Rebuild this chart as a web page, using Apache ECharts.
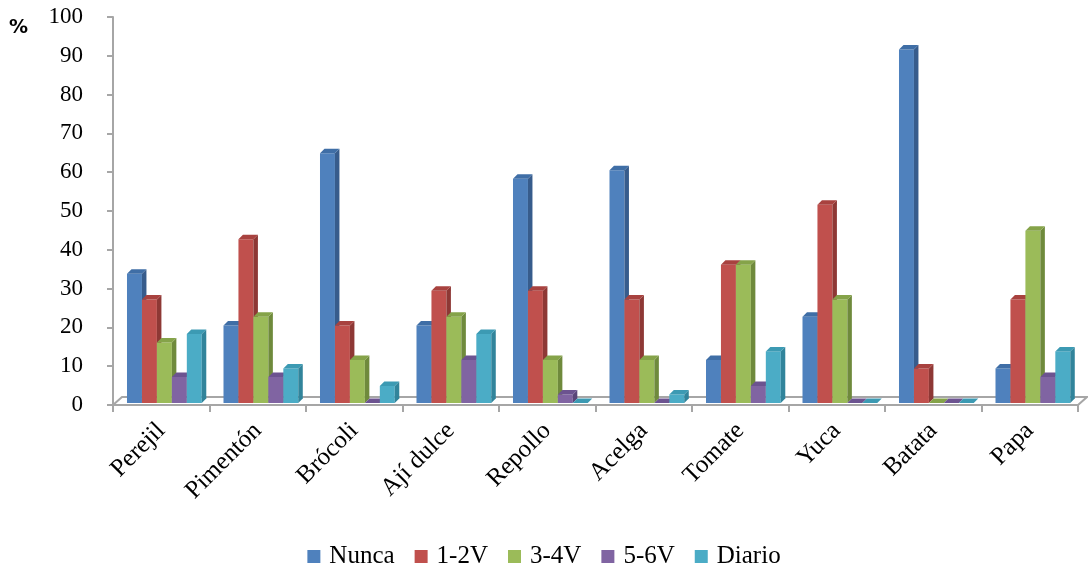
<!DOCTYPE html>
<html><head><meta charset="utf-8">
<script src="https://cdn.jsdelivr.net/npm/echarts@6/dist/echarts.min.js"></script>
<style>html,body{margin:0;padding:0;background:#fff}#c{width:1088px;height:574px}</style>
</head><body><div id="c"></div>
<script>
var categories = ['Perejil','Pimentón','Brócoli','Ají dulce','Repollo','Acelga','Tomate','Yuca','Batata','Papa'];
var seriesNames = ['Nunca','1-2V','3-4V','5-6V','Diario'];
var nunca  = [33.3, 20.0, 64.4, 20.0, 57.8, 60.0, 11.1, 22.2, 91.1, 8.9];
var v12    = [26.7, 42.2, 20.0, 28.9, 28.9, 26.7, 35.6, 51.1, 8.9, 26.7];
var v34    = [15.6, 22.2, 11.1, 22.2, 11.1, 11.1, 35.6, 26.7, 0, 44.4];
var v56    = [6.7, 6.7, 0, 11.1, 2.2, 0, 4.4, 0, 0, 6.7];
var diario = [17.8, 8.9, 4.4, 17.8, 0, 2.2, 13.3, 0, 0, 13.3];
var yTicks = [0,10,20,30,40,50,60,70,80,90,100];

var values = [nunca, v12, v34, v56, diario];
var front = ['#4F81BD','#C0504D','#9BBB59','#8064A2','#4BACC6'];
var side  = ['#375C8C','#8E3835','#6F8A3C','#5A4679','#31849B'];
var topc  = ['#3F6EA6','#A8423F','#85A349','#6C5390','#3C9AB3'];
var DX = 4.5, DY = 4.5;

function makeRender(idx){
  return function(params, api){
    var c = api.value(0), v = api.value(1);
    var base = api.coord([c, 0]);
    var tp = api.coord([c, v]);
    var band = api.size([1, 0])[0];
    var w = band * 0.155;
    var left = base[0] - band/2 + band*0.145 + w*idx;
    var by = base[1] - 2, ty = tp[1] - 2;
    if (ty > by) ty = by;
    var children = [];
    if (by - ty > 0.1) {
      children.push({type:'rect', shape:{x:left, y:ty, width:w, height:by-ty}, style:{fill:front[idx]}});
      children.push({type:'polygon', shape:{points:[[left+w,ty],[left+w+DX,ty-DY],[left+w+DX,by-DY],[left+w,by]]}, style:{fill:side[idx]}});
    }
    children.push({type:'polygon', shape:{points:[[left,ty],[left+DX,ty-DY],[left+w+DX,ty-DY],[left+w,ty]]}, style:{fill:topc[idx]}});
    return {type:'group', children:children};
  };
}

var series = [];
series.push({
  type:'custom', name:'floor', silent:true, z:1,
  data:[[0,0]],
  renderItem:function(params, api){
    var band = api.size([1,0])[0];
    var a = api.coord([0,0]), b = api.coord([categories.length-1,0]);
    var L = a[0]-band/2, R = b[0]+band/2, y = a[1];
    var ox = 9, oy = 8;
    return {type:'polyline', shape:{points:[[L,y],[L+ox,y-oy],[R+ox,y-oy],[R,y],[L,y]]},
      style:{fill:null, stroke:'#A6A6A6', lineWidth:2}};
  }
});
for (var s=0; s<seriesNames.length; s++){
  var d = values[s].map(function(v,i){return [i,v];});
  series.push({
    type:'custom', name:seriesNames[s], z:2,
    itemStyle:{color:front[s]},
    encode:{x:0, y:1},
    data:d,
    renderItem:makeRender(s)
  });
}

var chart = echarts.init(document.getElementById('c'), null, {renderer:'canvas'});
chart.setOption({
  animation:false,
  backgroundColor:'#fff',
  title:{text:'%', left:4, top:14, textStyle:{fontFamily:'DejaVu Sans', fontWeight:'bold', fontSize:19, color:'#000'}},
  legend:{
    data:seriesNames, bottom:0, left:'center', icon:'rect', itemWidth:13, itemHeight:13, itemGap:20,
    textStyle:{fontFamily:'Liberation Serif', fontSize:25, color:'#000', padding:[0,0,0,4]}
  },
  grid:{left:113, right:10, top:17, bottom:169},
  xAxis:{
    type:'category', data:categories,
    axisLine:{show:false},
    axisTick:{show:true, length:7, lineStyle:{color:'#A6A6A6', width:2}},
    axisLabel:{rotate:45, margin:22, fontFamily:'Liberation Serif', fontSize:25, color:'#000', interval:0}
  },
  yAxis:{
    type:'value', min:0, max:100, interval:10,
    axisLine:{show:true, lineStyle:{color:'#A6A6A6', width:2}},
    axisTick:{show:true, length:6, lineStyle:{color:'#A6A6A6', width:2}},
    splitLine:{show:false},
    axisLabel:{margin:30, fontFamily:'Liberation Serif', fontSize:23, color:'#000',
      formatter:function(v){ return yTicks.indexOf(v) >= 0 ? String(v) : ''; }}
  },
  series:series
});
</script></body></html>
